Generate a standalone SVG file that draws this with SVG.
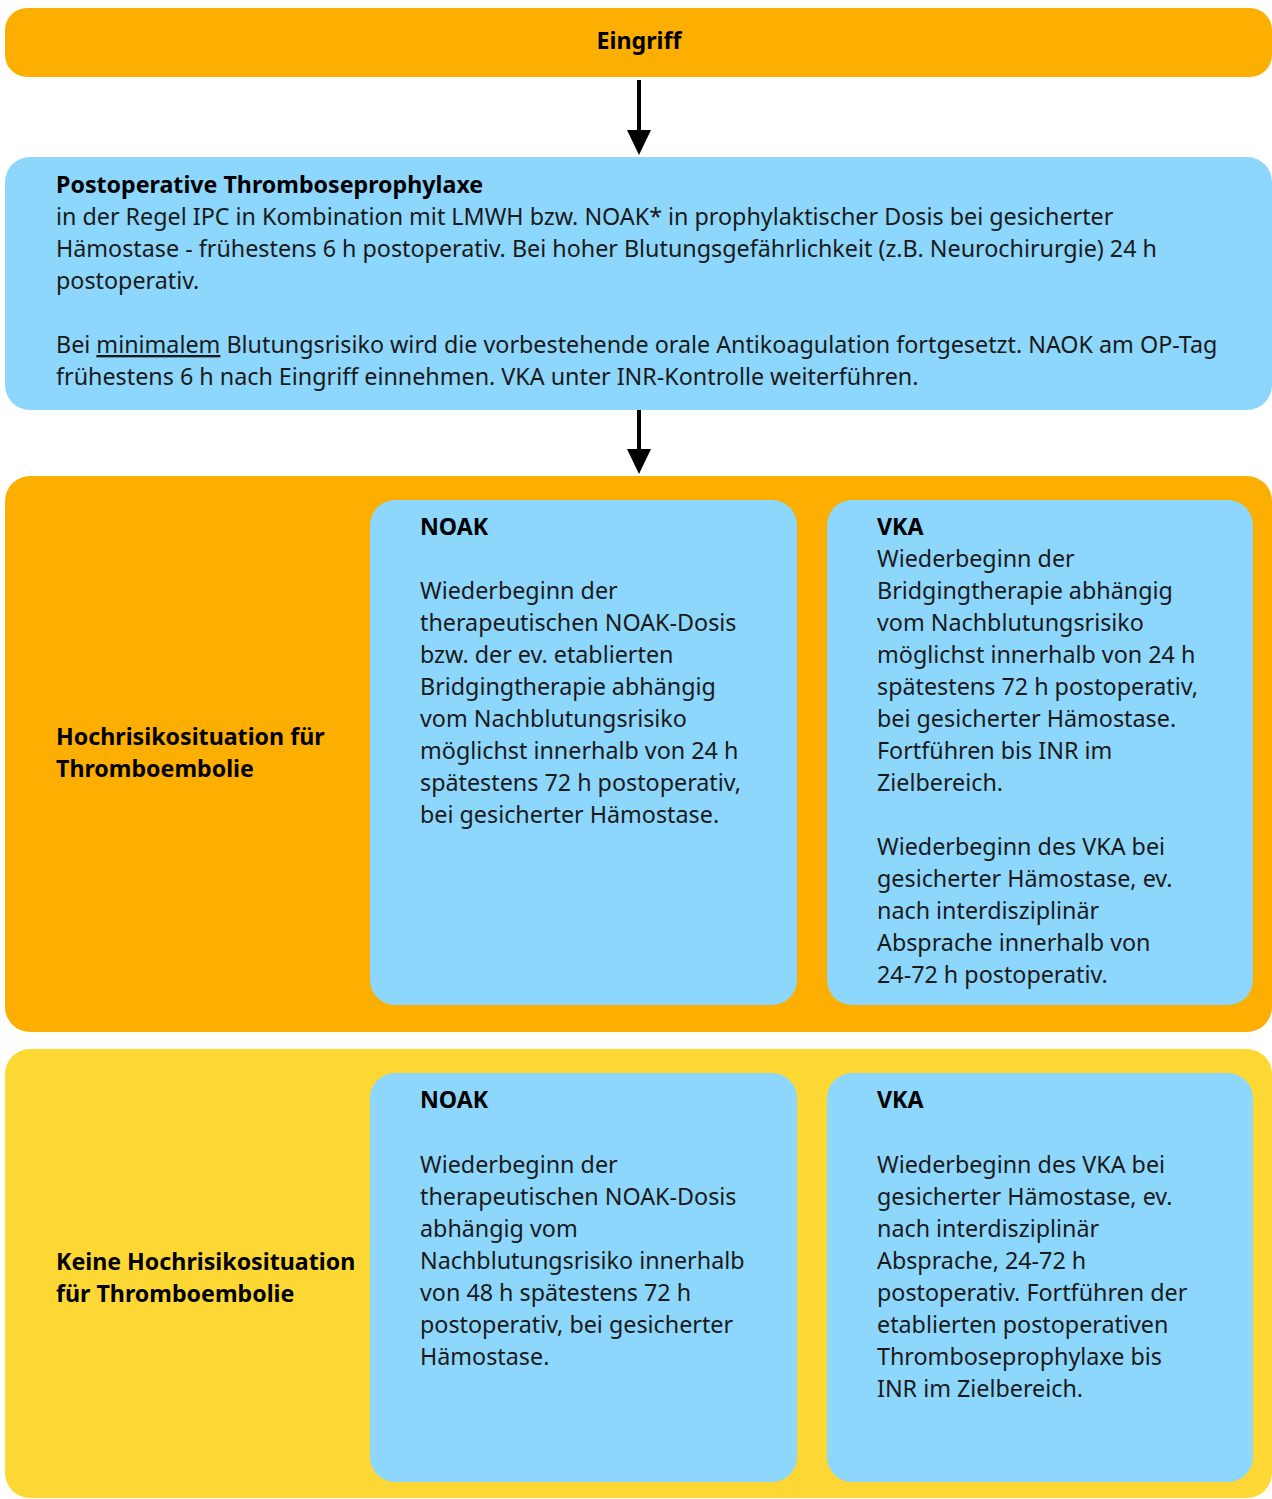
<svg xmlns="http://www.w3.org/2000/svg" width="1272" height="1499" viewBox="0 0 1272 1499">
<defs>
<style>
.t{font-family:"Noto Sans",sans-serif;font-size:23.3px;fill:#1a1a1a}
.b{font-weight:bold;fill:#000;font-size:23.2px}
.orange{fill:#FCAF00}
.blue{fill:#8DD6FC}
.yellow{fill:#FDD835}
</style>
</defs>
<rect width="1272" height="1499" fill="#fff"/>
<g id="eingriff">
<rect class="orange" x="5" y="8" width="1267" height="69" rx="22"/>
<text class="t b" x="639" y="49" text-anchor="middle">Eingriff</text>
</g>
<g id="prophylaxe">
<rect class="blue" x="5" y="157" width="1267" height="253" rx="25"/>
<text class="t b" x="56" y="193">Postoperative Thromboseprophylaxe</text>
<text class="t" x="56" y="225">in der Regel IPC in Kombination mit LMWH bzw. NOAK* in prophylaktischer Dosis bei gesicherter</text>
<text class="t" x="56" y="257">Hämostase - frühestens 6 h postoperativ. Bei hoher Blutungsgefährlichkeit (z.B. Neurochirurgie) 24 h</text>
<text class="t" x="56" y="289">postoperativ.</text>
<text class="t" x="56" y="353">Bei <tspan text-decoration="underline">minimalem</tspan> Blutungsrisiko wird die vorbestehende orale Antikoagulation fortgesetzt. NAOK am OP-Tag</text>
<text class="t" x="56" y="385">frühestens 6 h nach Eingriff einnehmen. VKA unter INR-Kontrolle weiterführen.</text>
</g>
<g id="hochrisiko">
<rect class="orange" x="5" y="476" width="1267" height="556" rx="25"/>
<text class="t b" x="56" y="745">Hochrisikosituation für</text>
<text class="t b" x="56" y="777">Thromboembolie</text>
</g>
<g id="hoch-noak">
<rect class="blue" x="370" y="500" width="427" height="505" rx="25"/>
<text class="t b" x="420" y="535">NOAK</text>
<text class="t" x="420" y="599">Wiederbeginn der</text>
<text class="t" x="420" y="631">therapeutischen NOAK-Dosis</text>
<text class="t" x="420" y="663">bzw. der ev. etablierten</text>
<text class="t" x="420" y="695">Bridgingtherapie abhängig</text>
<text class="t" x="420" y="727">vom Nachblutungsrisiko</text>
<text class="t" x="420" y="759">möglichst innerhalb von 24 h</text>
<text class="t" x="420" y="791">spätestens 72 h postoperativ,</text>
<text class="t" x="420" y="823">bei gesicherter Hämostase.</text>
</g>
<g id="hoch-vka">
<rect class="blue" x="827" y="500" width="426" height="505" rx="25"/>
<text class="t b" x="877" y="535">VKA</text>
<text class="t" x="877" y="567">Wiederbeginn der</text>
<text class="t" x="877" y="599">Bridgingtherapie abhängig</text>
<text class="t" x="877" y="631">vom Nachblutungsrisiko</text>
<text class="t" x="877" y="663">möglichst innerhalb von 24 h</text>
<text class="t" x="877" y="695">spätestens 72 h postoperativ,</text>
<text class="t" x="877" y="727">bei gesicherter Hämostase.</text>
<text class="t" x="877" y="759">Fortführen bis INR im</text>
<text class="t" x="877" y="791">Zielbereich.</text>
<text class="t" x="877" y="855">Wiederbeginn des VKA bei</text>
<text class="t" x="877" y="887">gesicherter Hämostase, ev.</text>
<text class="t" x="877" y="919">nach interdisziplinär</text>
<text class="t" x="877" y="951">Absprache innerhalb von</text>
<text class="t" x="877" y="983">24-72 h postoperativ.</text>
</g>
<g id="keinhoch">
<rect class="yellow" x="5" y="1049" width="1267" height="449" rx="25"/>
<text class="t b" x="56" y="1270">Keine Hochrisikosituation</text>
<text class="t b" x="56" y="1302">für Thromboembolie</text>
</g>
<g id="kein-noak">
<rect class="blue" x="370" y="1073" width="427" height="409" rx="25"/>
<text class="t b" x="420" y="1108">NOAK</text>
<text class="t" x="420" y="1173">Wiederbeginn der</text>
<text class="t" x="420" y="1205">therapeutischen NOAK-Dosis</text>
<text class="t" x="420" y="1237">abhängig vom</text>
<text class="t" x="420" y="1269">Nachblutungsrisiko innerhalb</text>
<text class="t" x="420" y="1301">von 48 h spätestens 72 h</text>
<text class="t" x="420" y="1333">postoperativ, bei gesicherter</text>
<text class="t" x="420" y="1365">Hämostase.</text>
</g>
<g id="kein-vka">
<rect class="blue" x="827" y="1073" width="426" height="409" rx="25"/>
<text class="t b" x="877" y="1108">VKA</text>
<text class="t" x="877" y="1173">Wiederbeginn des VKA bei</text>
<text class="t" x="877" y="1205">gesicherter Hämostase, ev.</text>
<text class="t" x="877" y="1237">nach interdisziplinär</text>
<text class="t" x="877" y="1269">Absprache, 24-72 h</text>
<text class="t" x="877" y="1301">postoperativ. Fortführen der</text>
<text class="t" x="877" y="1333">etablierten postoperativen</text>
<text class="t" x="877" y="1365">Thromboseprophylaxe bis</text>
<text class="t" x="877" y="1397">INR im Zielbereich.</text>
</g>
<g id="connectors" stroke="#000" stroke-width="4">
<line x1="639" y1="80" x2="639" y2="133"/>
<path d="M627,130 L651,130 L639,155 z" fill="#000" stroke="none"/>
<line x1="639" y1="410" x2="639" y2="452"/>
<path d="M627,449 L651,449 L639,474 z" fill="#000" stroke="none"/>
</g>
</svg>
